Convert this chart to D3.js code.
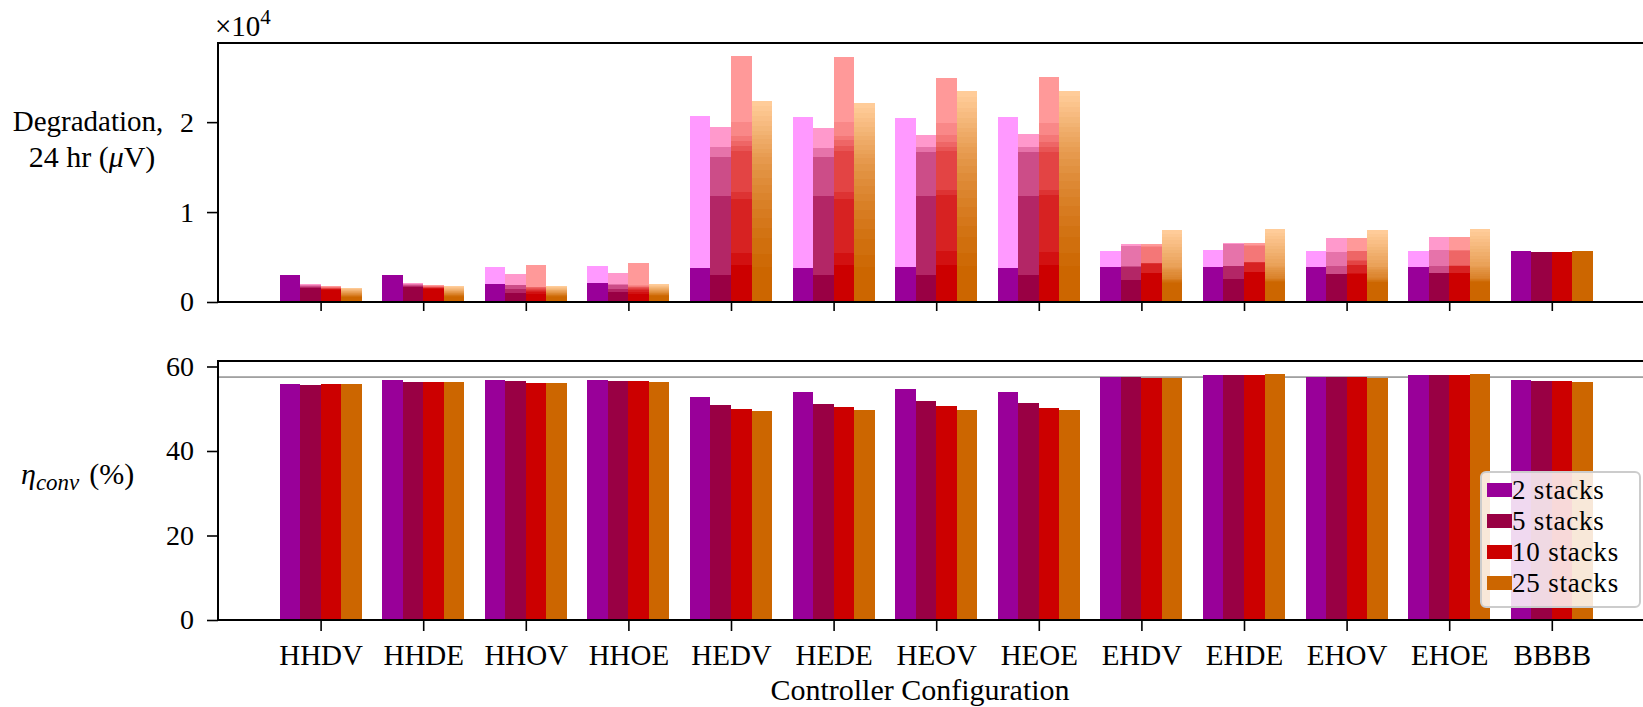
<!DOCTYPE html>
<html>
<head>
<meta charset="utf-8">
<script src="https://cdn.jsdelivr.net/npm/d3@7"></script>
<style>
  body { margin: 0; background: #fff; }
  svg text { font-family: "Liberation Serif", serif; fill: #000; }
</style>
</head>
<body>
<svg width="1643" height="707"></svg>
<script>
// categories and series
var categories = ["HHDV","HHDE","HHOV","HHOE","HEDV","HEDE","HEOV","HEOE","EHDV","EHDE","EHOV","EHOE","BBBB"];
var seriesLabels = ["2 stacks","5 stacks","10 stacks","25 stacks"];
var darkColors = ["#990099","#990044","#cc0000","#cc6600"];
var lightColors = ["#ff99ff","#ff99cc","#ff9999","#ffcc99"];

// degradation, cumulative over stacks (sorted), 24 hr, uV
var deg2 = [
  [2950,2980],[3000,3050],[2040,3930],[2110,3980],[3780,20670],[3740,20560],[3850,20480],
  [3780,20560],[3850,5630],[3890,5740],[3850,5630],[3930,5700],[5640,5650]
];
var deg5 = [
  [1560,1700,1820,1930,2040],[1630,1780,1900,2030,2150],[1000,1400,1850,1900,3130],
  [1110,1450,1900,1950,3180],[2970,11780,16150,17190,19410],[3040,11780,16110,17150,19370],
  [3040,11830,16670,17260,18520],[2970,11830,16670,17260,18630],[2490,3890,3950,6190,6490],
  [2560,3960,4030,6410,6600],[3080,3130,3960,5520,7110],[3220,3260,3970,5740,7190],
  [5600,5600,5600,5600,5600]
];
var deg10 = [
  [1370,1420,1460,1500,1540,1580,1610,1640,1680,1740],
  [1480,1530,1570,1610,1650,1690,1720,1760,1800,1850],
  [930,1100,1250,1380,1480,1560,1620,1670,1720,4110],
  [930,1120,1280,1420,1530,1620,1700,1760,1850,4300],
  [4070,5440,11480,12220,16780,17400,17890,18440,20000,27360],
  [4070,5440,11480,12220,16780,17400,17960,18440,20070,27240],
  [4070,5630,11850,12400,16780,17260,17800,18520,19920,24890],
  [4070,5560,11850,12400,16670,17260,17800,18600,19920,25000],
  [3220,3240,4260,4290,4320,4350,4380,6150,6200,6410],
  [3300,3320,4370,4400,4430,4460,4490,6250,6300,6560],
  [3150,3170,4070,4100,4590,4620,5630,5660,5700,7110],
  [3220,3240,3970,4000,4030,4060,5700,5740,5770,7190],
  [5600,5600,5600,5600,5600,5600,5600,5600,5600,5600]
];
var deg25 = [
  [560,610,650,690,720,750,790,830,870,910,950,990,1030,1080,1120,1170,1220,1270,1320,1370,1420,1460,1500,1550,1600],
  [600,650,700,740,780,820,860,900,950,990,1030,1080,1120,1170,1220,1270,1320,1370,1420,1470,1530,1580,1630,1690,1740],
  [610,660,710,750,790,830,870,910,960,1000,1040,1090,1130,1180,1230,1280,1330,1380,1440,1490,1550,1600,1660,1710,1770],
  [680,730,780,830,870,910,960,1000,1050,1100,1150,1200,1250,1300,1350,1410,1470,1520,1580,1640,1700,1760,1820,1890,1960],
  [3920,5300,7070,8200,9300,10300,11300,12100,12960,13800,14630,15400,16110,16600,17040,17600,18150,18600,19070,19600,20180,20700,21200,21800,22400],
  [3900,5250,7000,8150,9250,10250,11250,12050,12900,13700,14550,15300,16000,16500,16950,17500,18050,18500,18950,19450,20000,20500,21000,21600,22180],
  [3950,5400,7200,8400,9500,10600,11600,12500,13400,14300,15100,15900,16600,17200,17700,18300,18900,19400,19900,20500,21100,21600,22200,22800,23410],
  [3950,5420,7230,8420,9530,10630,11640,12540,13440,14330,15150,15950,16650,17250,17750,18350,18950,19450,19950,20550,21150,21650,22250,22870,23500],
  [2150,2250,2330,2400,2470,2540,2600,2800,3050,3300,3520,3700,3820,3900,4300,4700,5050,5400,5800,6150,6500,6850,7200,7600,7970],
  [2200,2290,2370,2440,2510,2580,2650,2850,3100,3350,3570,3760,3880,3960,4380,4780,5150,5500,5880,6250,6600,6950,7300,7700,8080],
  [2180,2270,2350,2420,2490,2560,2630,2830,3080,3320,3540,3720,3840,3920,4320,4720,5080,5430,5800,6160,6500,6860,7220,7600,7970],
  [2220,2310,2390,2460,2530,2600,2670,2870,3120,3370,3590,3780,3900,3980,4400,4800,5170,5520,5900,6270,6620,6980,7330,7730,8110],
  [5620,5620,5620,5620,5620,5620,5620,5620,5620,5620,5620,5620,5620,5620,5620,5620,5620,5620,5620,5620,5620,5620,5620,5620,5620]
];

// conversion efficiency (%)
var eff2  = [55.75,56.7,56.8,56.7,52.8,54.0,54.6,54.0,57.5,57.9,57.5,57.9,56.9];
var eff5  = [55.6,56.4,56.5,56.5,50.8,51.2,51.9,51.3,57.45,58.1,57.4,58.1,56.6];
var eff10 = [55.8,56.4,56.2,56.5,50.0,50.3,50.7,50.2,57.2,58.1,57.4,58.1,56.5];
var eff25 = [55.8,56.3,56.1,56.4,49.5,49.6,49.8,49.6,57.2,58.3,57.3,58.3,56.4];
var refEff = 57.5;

var degTicks = [0, 10000, 20000];
var effTicks = [0, 20, 40, 60];

var degSeries = [deg2, deg5, deg10, deg25];
var effSeries = [eff2, eff5, eff10, eff25];

var svg = d3.select("svg");
var left = 218, right = 1654.4;
var barW = 0.2;

var x = d3.scaleLinear().domain([-1, 13]).range([left, right]);
var yTop = d3.scaleLinear().domain([0, 28800]).range([302, 43]);
var yBot = d3.scaleLinear().domain([0, 61.3]).range([620, 361]);

// ---- top panel: stacked per-stack degradation
var segs = [];
degSeries.forEach(function (ser, s) {
  var col = d3.interpolateRgb(darkColors[s], lightColors[s]);
  ser.forEach(function (cum, c) {
    cum.forEach(function (v, k) {
      var y0 = k ? cum[k - 1] : 0;
      if (v - y0 <= 0) return;
      segs.push({ c: c, s: s, y0: y0, y1: v, color: col(cum.length > 1 ? k / (cum.length - 1) : 0) });
    });
  });
});

svg.append("g").selectAll("rect")
  .data(segs)
  .join("rect")
  .attr("x", function (d) { return x(d.c + (d.s - 2) * barW); })
  .attr("width", x(barW) - x(0))
  .attr("y", function (d) { return yTop(d.y1); })
  .attr("height", function (d) { return yTop(d.y0) - yTop(d.y1); })
  .attr("fill", function (d) { return d.color; })
  .attr("shape-rendering", "crispEdges");

// ---- bottom panel: efficiency
svg.append("line")
  .attr("x1", left).attr("x2", right)
  .attr("y1", yBot(refEff)).attr("y2", yBot(refEff))
  .attr("stroke", "#555").attr("stroke-width", 1);

var effBars = [];
effSeries.forEach(function (ser, s) {
  ser.forEach(function (v, c) { effBars.push({ c: c, s: s, v: v }); });
});
svg.append("g").selectAll("rect")
  .data(effBars)
  .join("rect")
  .attr("x", function (d) { return x(d.c + (d.s - 2) * barW); })
  .attr("width", x(barW) - x(0))
  .attr("y", function (d) { return yBot(d.v); })
  .attr("height", function (d) { return yBot(0) - yBot(d.v); })
  .attr("fill", function (d) { return darkColors[d.s]; })
  .attr("shape-rendering", "crispEdges");

// ---- axes
function styleAxis(g, size) {
  g.select(".domain").remove();
  g.selectAll(".tick line").attr("stroke", "#000").attr("stroke-width", 1.6);
  g.selectAll(".tick text").style("font-size", size + "px").attr("fill", "#000");
}

svg.append("g")
  .attr("transform", "translate(" + left + ",0)")
  .call(d3.axisLeft(yTop).tickValues(degTicks).tickFormat(function (d) { return d / 10000; }).tickSize(11).tickPadding(13))
  .call(styleAxis, 28);

svg.append("g")
  .attr("transform", "translate(0,302)")
  .call(d3.axisBottom(x).tickValues(d3.range(categories.length)).tickFormat("").tickSize(9))
  .call(styleAxis, 28);

svg.append("g")
  .attr("transform", "translate(" + left + ",0)")
  .call(d3.axisLeft(yBot).tickValues(effTicks).tickSize(11).tickPadding(13))
  .call(styleAxis, 28);

svg.append("g")
  .attr("transform", "translate(0,620)")
  .call(d3.axisBottom(x).tickValues(d3.range(categories.length)).tickFormat(function (i) { return categories[i]; }).tickSize(11).tickPadding(13))
  .call(styleAxis, 29);

// spines
[[43, 302], [361, 620]].forEach(function (p) {
  svg.append("path")
    .attr("d", "M" + right + "," + p[0] + "H" + left + "V" + p[1] + "H" + right)
    .attr("fill", "none").attr("stroke", "#000").attr("stroke-width", 2);
});

// ---- labels
var off = svg.append("text").attr("x", 215).attr("y", 36).style("font-size", "29px");
off.append("tspan").text("\u00d710");
off.append("tspan").attr("dy", -12).style("font-size", "21px").text("4");

svg.append("text").attr("x", 88).attr("y", 131).attr("text-anchor", "middle")
  .style("font-size", "29px").text("Degradation,");
var l2 = svg.append("text").attr("x", 92).attr("y", 167).attr("text-anchor", "middle")
  .style("font-size", "30px");
l2.append("tspan").text("24 hr (");
l2.append("tspan").style("font-style", "italic").text("\u03bc");
l2.append("tspan").text("V)");

var eta = svg.append("text").attr("x", 21).attr("y", 484).style("font-size", "30px");
eta.append("tspan").style("font-style", "italic").text("\u03b7");
eta.append("tspan").attr("dy", 6).style("font-style", "italic").style("font-size", "23px").text("conv");
eta.append("tspan").attr("dy", -6).attr("dx", 10).text("(%)");

svg.append("text").attr("x", 920).attr("y", 700).attr("text-anchor", "middle")
  .style("font-size", "30px").text("Controller Configuration");

// ---- legend
var lg = svg.append("g");
lg.append("rect")
  .attr("x", 1481).attr("y", 472).attr("width", 159).attr("height", 135)
  .attr("rx", 5).attr("fill", "#fff").attr("fill-opacity", 0.85)
  .attr("stroke", "#ccc").attr("stroke-width", 2);
seriesLabels.forEach(function (t, i) {
  var cy = 490 + i * 31;
  lg.append("rect").attr("x", 1487).attr("y", cy - 7).attr("width", 25).attr("height", 14)
    .attr("fill", darkColors[i]);
  lg.append("text").attr("x", 1512).attr("y", cy + 9).style("font-size", "27px")
    .style("letter-spacing", "0.8px").text(t);
});
</script>
</body>
</html>
